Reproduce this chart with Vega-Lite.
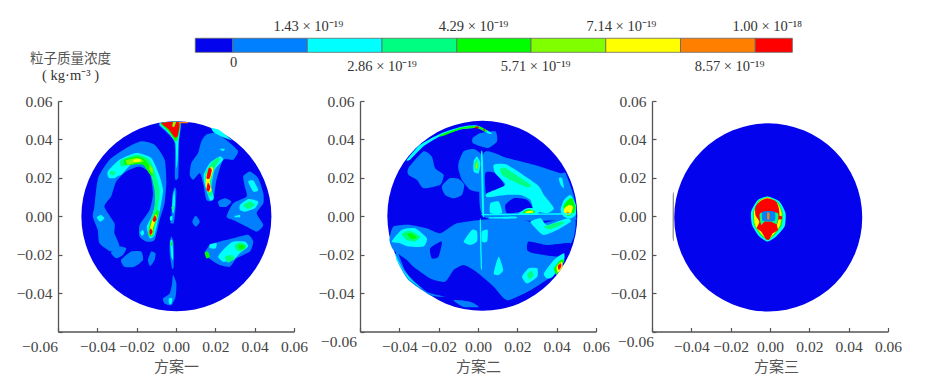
{"$schema":"https://vega.github.io/schema/vega-lite/v6.json","background":"white","padding":{"left":16,"top":0,"right":0,"bottom":0},"spacing":0,"bounds":"flush","config":{"view":{"stroke":null},"axis":{"grid":false,"domainColor":"#555","domainWidth":1.3,"tickColor":"#555","tickWidth":1.2,"tickSize":-4,"labelFont":"Liberation Serif","labelFontSize":15.5,"labelColor":"#444","labelOverlap":false,"labelBound":false,"labelFlush":false,"titleFont":"Noto Sans CJK SC","titleFontSize":15,"titleFontWeight":"normal","titleColor":"#555"},"axisX":{"labelPadding":12,"titlePadding":4},"axisY":{"labelPadding":10,"title":null}},
"datasets":{
"A":[
{"i":"a1","v":1,"x":[-17.7,-10.9,-5.8,-4.9,-5.8,-8.3,-10.9,-15.1,-18.5,-18.5,-13.4,-11.7,-13.4,-18.5,-25.3,-30.4,-33,-36.4,-31.3,-31.3,-28.7,-33,-38.9,-39.8,-42.3,-41.5,-40.6,-39.3,-33.8,-25.3],"y":[39,37.2,29.4,18.1,6.8,-1.9,-12.4,-13.2,-10.6,-4.5,3.3,12,22.4,25.9,23.3,18.1,10.3,5,-3.7,-8.9,-15.8,-18.4,-14.1,-7.1,-0.2,5,13.7,20.7,29.4,35.5]},
{"i":"a2","v":2,"x":[-28.7,-20.2,-12.6,-8.3,-6.6,-7.5,-9.2,-10.9,-13.4,-14.8,-11.7,-10,-11.7,-16,-22.8,-27.9,-33.8,-34.7],"y":[29.4,32.9,30.3,20.7,13.7,6.8,-1.9,-9.7,-11.5,-5.4,1.6,10.3,20.7,26.8,26.8,21.6,19.8,23.3]},
{"i":"a3","v":3,"x":[-27.9,-19.4,-13.4,-10,-8.3,-9.2,-10.9,-12.1,-13.8,-13.4,-10.9,-10.9,-13.1,-16.8,-23.6,-27.9],"y":[29.4,32,29.4,20.7,12.9,5,-1.9,-9.7,-10.3,-3.7,5,13.7,22.4,27.7,26.8,25.9]},
{"i":"a4","v":4,"x":[-26.2,-19.4,-14.8,-11.7,-13.1,-16.8,-22.8,-25.8],"y":[29.4,31.1,28.5,21.6,21.6,26.8,26.8,26.8]},
{"i":"a5","v":5,"x":[-25.3,-19.4,-16.5,-21.1,-24.5],"y":[29.1,30.3,28.5,27.7,26.8]},
{"i":"a6","v":6,"x":[-21.6,-18.2,-18.2,-21.6],"y":[29.4,29.8,28.4,28.4]},
{"i":"a7","v":5,"x":[-13.4,-11.7,-12.1,-13.4],"y":[26.8,24.2,22.1,24.2]},
{"i":"s1","v":4,"x":[-9.5,-8.7,-10.9,-11.7,-13.8,-13.4],"y":[3.3,1.6,-5.4,-10.3,-9.7,-4.5]},
{"i":"s2","v":6,"x":[-10,-10,-11.7,-12.1,-13.4,-13.1,-11.7],"y":[1.2,-1,-6.3,-9.7,-9.4,-5.7,-1]},
{"i":"s3","v":8,"x":[-10.7,-9.9,-11,-11.9],"y":[0.5,-1.6,-3.1,-1.9]},
{"i":"s4","v":8,"x":[-12.8,-11.9,-12.8,-13.6],"y":[-6.3,-8,-9.9,-8.2]},
{"i":"b1","v":2,"x":[-34.2,-31.3,-28.7,-31.3,-33.8],"y":[23.3,24.5,22.4,19.8,20.2]},
{"i":"b1b","v":3,"x":[-33,-30.8,-31.8,-33.8],"y":[23.7,23.1,21.4,22.1]},
{"i":"b2","v":2,"x":[-40.3,-38.1,-36.4,-38.6],"y":[-0.5,0.7,-1,-2.8]},
{"i":"c1","v":1,"x":[-33,-28.7,-25.3,-27,-30.4],"y":[-19,-15.8,-16.7,-20.2,-21.9]},
{"i":"c2","v":1,"x":[-27.9,-22.8,-17.7,-16.8,-21.1,-26.2],"y":[-22.8,-18.4,-18.4,-22.8,-26.3,-26.3]},
{"i":"c3","v":1,"x":[-14.3,-12.6,-10.4,-10.9,-13.1],"y":[-22.8,-18.4,-19.3,-22.8,-25.9]},
{"i":"c4","v":2,"x":[-18.2,-16.8,-16.2,-17.2],"y":[-8.5,-7.1,-8.9,-10.3]},
{"i":"t1","v":1,"x":[-8.8,2.2,1.5,1.2,-0.5,-0.7,-4.9],"y":[48.2,48.9,38.1,20.7,19.8,38.1,43.7]},
{"i":"t2","v":2,"x":[-8.3,1.9,1.2,0.9,0.2,-0.3,-4.6],"y":[48.2,48.9,38.1,29.4,25.1,38.1,44.2]},
{"i":"t3","v":4,"x":[-7.8,1.9,1,-0.2,-4.1],"y":[48.4,48.9,40.7,39,44.5]},
{"i":"t4","v":8,"x":[-7.3,1.5,0.9,-0.7,-3.6],"y":[48.5,48.9,41.9,41.1,45.1]},
{"i":"t5","v":5,"x":[-1.5,0,-0.9,-1.9],"y":[48.9,48.9,46.5,46.8]},
{"i":"t6","v":7,"x":[1.5,6,6,1.5],"y":[49,49,48.4,48.4]},
{"i":"u1","v":1,"x":[15.5,20.6,27.4,31.6,29.1,24,20.6,18.9,15.5,13.8,12.1,8.7,7,7.8,11.2,12.9],"y":[42.5,43.3,38.1,33.8,29.4,29.4,19,8.5,8.5,17.2,22.4,19,21.6,27.7,32.9,39]},
{"i":"u2","v":2,"x":[18,22.3,28.2,27.4,22.3,19.2],"y":[45.9,44.7,39.8,39.8,41.9,43.7]},
{"i":"u2b","v":4,"x":[24,28.2,26.5],"y":[43.2,39.9,41.2]},
{"i":"u3","v":2,"x":[22.3,24,19.7,18,19.2,17.2,14.6,14.1,17.2],"y":[31.1,29.4,24.2,15.5,9.4,8.5,16.4,21.6,27.7]},
{"i":"u4","v":3,"x":[20.9,22.3,18.9,17.7,18.5,16.8,15.1,15,18],"y":[30.3,29.8,23.3,15.5,11.1,10.6,17.2,22.4,27.7]},
{"i":"u5","v":6,"x":[18,18.9,17.2,18,16.7,15.1,15.5],"y":[25.9,24.2,18.1,13.7,12.4,15.8,21.6]},
{"i":"u6","v":8,"x":[16.7,18.2,17.2,15.5],"y":[25.1,24.2,19.8,19.8]},
{"i":"u7","v":8,"x":[16.2,17.5,16.8,15.5],"y":[17.6,15.5,12.9,13.7]},
{"i":"u8","v":2,"x":[22.3,24.8,24],"y":[35,35,33.9]},
{"i":"r1","v":1,"x":[34.2,37.6,41.8,44.4,44.4,41,44.4,41,35.9,29.1,25.7,29.1,35.9,35],"y":[20.7,23.3,19.8,12,6.8,1.6,-4.5,-8,-5.4,-1.9,-0.2,6.8,10.3,15.5]},
{"i":"r2","v":2,"x":[36.7,39.3,41.8,39.3],"y":[18.1,18.6,13.7,12.9]},
{"i":"r3","v":2,"x":[32.5,36.7,41.8,40.1,35,32.5],"y":[5.9,8.9,7.7,4.2,2.4,3.3]},
{"i":"r4","v":3,"x":[34.2,37.6,40.1,36.7],"y":[5.9,7.7,5.9,3.8]},
{"i":"r5","v":2,"x":[29.9,32.5,32.5,29.9],"y":[0.2,0.7,-0.5,-0.5]},
{"i":"r6","v":1,"x":[21.4,24.8,28.2,25.7,22.3],"y":[7.7,9.4,7.7,5,5]},
{"i":"r7","v":1,"x":[8.3,10,12.1,10],"y":[-2.8,0.3,-2.8,-5.4]},
{"i":"d1","v":1,"x":[17.2,22.3,29.1,36.7,39.3,37.6,30.8,27.4,22.3,18,14.6],"y":[-15,-13.2,-11.5,-9.7,-13.2,-18.4,-21.9,-26.3,-25.4,-22.8,-19.3]},
{"i":"d2","v":2,"x":[17.2,20.6,20.2,17.2],"y":[-14.6,-14.1,-16.7,-16.7]},
{"i":"d3","v":2,"x":[29.1,35,36.7,32.5,29.1,24,21.4,24.8],"y":[-13.2,-13.2,-15.8,-19.3,-22.8,-23.7,-21.1,-16.7]},
{"i":"d4","v":3,"x":[29.9,33.3,35.9,33.3,30.8],"y":[-15,-13.7,-15.8,-18.4,-17.6]},
{"i":"d5","v":3,"x":[24.8,28.2,29.9,26.5],"y":[-21.1,-20.2,-21.9,-24.2]},
{"i":"d6","v":4,"x":[31.6,34.2,35,32.5],"y":[-15,-15,-16.4,-17.2]},
{"i":"d7","v":4,"x":[14.6,16.3,17.2,15.5],"y":[-19,-18.4,-21.1,-21.9]},
{"i":"m1","v":1,"x":[-2.4,-1.9,-0.7,0.2,-0.3,-1.2,-3.2],"y":[-1.9,10.3,15.1,12.9,3.3,-3.7,-3.3]},
{"i":"m2","v":2,"x":[-2,-1.5,-0.7,-0.5,-1.2],"y":[3.3,10.3,13.7,6.8,1.6]},
{"i":"m3","v":3,"x":[-2.4,-1.2,-1.4],"y":[4.5,5.4,2.4]},
{"i":"m4","v":2,"x":[-3.1,-1.9,-1.9,-2.9],"y":[-0.5,0.2,-1.9,-2.3]},
{"i":"l1","v":1,"x":[-3.2,-2.4,-1.2,-1.2,-2,-3.2],"y":[-14.1,-10.6,-14.1,-26.3,-27.1,-19.3]},
{"i":"l2","v":2,"x":[-2.9,-2,-1.5,-1.5,-2.4],"y":[-13.2,-12.4,-17.6,-22.8,-21.1]},
{"i":"l3","v":4,"x":[-2.9,-1.9,-1.9],"y":[-14.1,-13.2,-15.8]},
{"i":"e1","v":1,"x":[-1.5,0.2,-0.2,-2.4,-5.8,-6.6,-3.2,-2],"y":[-30.6,-35,-41.9,-46.3,-45.4,-42.8,-40.2,-35]},
{"i":"e2","v":2,"x":[-3.6,-1.9,-2.4,-3.6],"y":[-42.8,-42.8,-45.8,-45.1]}
],
"B":[
{"i":"a","v":1,"x":[-35.4,-27.7,-23.5,-21.8,-17.5,-19.2,-27.7,-31.1,-35.4],"y":[25,33.8,31.1,25,21.6,16.4,14.6,19,21.6]},
{"i":"b","v":1,"x":[-18.4,-14.5,-9.9,-7,-8.2,-12.4,-16.7],"y":[15.5,19.8,19.5,16.4,11.1,9.4,11.1]},
{"i":"c","v":1,"x":[-9.9,-7.3,-2.2,2,2,-3.9,-8.2,-9.9],"y":[27.7,33.8,35,31.1,13.7,13.7,19,24.2]},
{"i":"d","v":1,"x":[-2.7,1.2,8.8,9.7,5.4,1.2,-2.7],"y":[40.7,43.3,44.2,39,35.5,36.4,38.1]},
{"i":"e","v":1,"x":[2.9,14.8,28.4,42,44.5,48.8,49.8,47.1,2.9],"y":[32.9,30.3,26.8,22.4,22.4,10.3,-0.2,-1.9,-0.2]},
{"i":"f","v":1,"x":[-43,-34.5,-26,-19.2,-10.7,1.2,18.2,31.8,48.8,48.8,43.7,36.9,26.7,14.8,8,1.2,-2.2,-7.3,-12.4,-16.7,-24.3,-32.8,-36.2,-43,-45],"y":[-5.4,-4.5,-6.3,-8.9,-3.7,-1.9,-1,-3.7,-0.2,-10.6,-21.1,-31.5,-38.5,-43.7,-36.7,-30.6,-28,-25.4,-28,-34.1,-32.4,-26.3,-22.8,-17.6,-12.4]},
{"i":"g","v":0,"x":[-24.3,-18.4,-20.1,-23.5],"y":[-16.7,-13.2,-21.1,-21.9]},
{"i":"h","v":0,"x":[25.8,35.2,47.1,43.7,28.4,25],"y":[-13.2,-15,-14.1,-21.1,-19.3,-17.6]},
{"i":"i","v":0,"x":[3.7,8.8,13.4,4.6],"y":[22.4,22.4,15.5,9.9]},
{"i":"j","v":0,"x":[13.9,18.2,25,28.4,21.6,14.8],"y":[5.9,9.4,8.5,3.3,2.4,1.6]},
{"i":"k","v":1,"x":[-41.3,-36.2,-26,-16.7,-24.3,-35.4,-41.3],"y":[-17.6,-29.8,-39.3,-41.9,-41.1,-33.2,-22.8]},
{"i":"l","v":1,"x":[-12.4,-3.9,0.3,-7.3],"y":[-43.7,-44.5,-47.2,-47.2]},
{"i":"m","v":2,"x":[8,14.8,30.1,33.5,38.6,35.2,28.4,26.7,21.6,13.9,4.6,4.6,13.9,8.8],"y":[26.8,26.8,16.4,11.1,4.2,1.6,3.3,8.5,11.1,11.1,9.9,12,16.4,22.4]},
{"i":"n","v":2,"x":[6.3,10.5,12.2,6.3],"y":[6.8,7.7,1.6,1.6]},
{"i":"o","v":3,"x":[11.4,14.8,26.7,25,18.2,12.2],"y":[25,24.5,16.4,15.1,18.1,21.6]},
{"i":"p","v":2,"x":[-2.2,-0.5,1.2,0.3,-2.2],"y":[28.5,31.1,27.7,22.4,23.3]},
{"i":"q","v":3,"x":[-1.7,-0.5,0.3,-0.2,-1.5],"y":[27.7,29.8,26.8,23.7,24.5]},
{"i":"q2","v":5,"x":[-1.2,-0.3,-0.2,-1.2],"y":[26.8,28.5,25,25]},
{"i":"r","v":2,"x":[20.7,25,30.9,30.1,21.6],"y":[1.6,4.2,3.7,1.2,1]},
{"i":"r2","v":4,"x":[22.4,25.8,29.2,26.7],"y":[1.9,3.7,2.4,1.2]},
{"i":"r3","v":6,"x":[24.1,27.5,28.1,24.7],"y":[2.3,3,1.9,1.6]},
{"i":"s","v":2,"x":[42,43.7,47.1,49.8,49.6,47.1,43.7],"y":[3.3,8.5,11.1,5.9,0.7,-1,-0.2]},
{"i":"s2","v":4,"x":[43.4,45.4,47.9,49.6,48.8,45.4],"y":[5,8.2,9.4,5,1.6,0.2]},
{"i":"s3","v":6,"x":[44,46.2,48.3,47.1,45,43.7],"y":[4.2,5.9,5,1.2,0.7,2.4]},
{"i":"s4","v":7,"x":[45,46.4,45.7],"y":[2.3,1.9,0.5]},
{"i":"t","v":2,"x":[1.5,2.4,3.1,2.2],"y":[32,32,1.6,1.6]},
{"i":"u","v":2,"x":[4.6,47.1,47.1,4.6],"y":[1.2,1.6,0.9,0.5]},
{"i":"w","v":2,"x":[6.3,19,19,6.3],"y":[-0.5,-0.2,-1.2,-1.2]},
{"i":"x","v":2,"x":[0.9,1.5,2,1.4],"y":[-2.8,-2.8,-26.3,-26.3]},
{"i":"y","v":2,"x":[-36.2,-29.4,-19.2,-9,-0.5,7.1,5.4,-0.5,-9,-19.2,-27.7,-34.5],"y":[29.4,37.2,43,46.5,47.3,43.3,43,45.9,45.1,41.6,36.4,29.4]},
{"i":"y2","v":4,"x":[-19.2,-9,-0.5,4.6,3.7,-0.5,-9,-18.4],"y":[42.3,46.1,47,44.7,44,45.9,45.2,41.6]},
{"i":"y3","v":8,"x":[-1.4,0.3,0.3,-1.4],"y":[46.6,46.6,45.8,45.8]},
{"i":"y4","v":8,"x":[2.6,3.7,3.2],"y":[45.6,45.1,44.4]},
{"i":"z","v":2,"x":[-43.9,-38.8,-32,-26,-27.7,-35.4,-39.6],"y":[-13.2,-7.1,-6.3,-11.5,-15.8,-15.8,-14.1]},
{"i":"z2","v":3,"x":[-38.8,-34.5,-29.4,-32,-36.2],"y":[-9.2,-7.5,-10.6,-13.2,-12.4]},
{"i":"z3","v":4,"x":[-36.2,-33.7,-31.1,-33.7],"y":[-9.2,-8.9,-11,-12]},
{"i":"aa","v":2,"x":[-7.3,-3.1,-0.5,-0.5,-3.9],"y":[-13.2,-7.1,-8,-13.2,-15]},
{"i":"bb","v":2,"x":[2,4.9,4.6,2],"y":[-8,-7.1,-13.2,-13.2]},
{"i":"cc","v":2,"x":[8,10.5,12.8,10.5],"y":[-29.8,-21.1,-28,-30.6]},
{"i":"dd","v":2,"x":[22.4,25.8,30.1,30.1,25],"y":[-31.5,-27.1,-27.1,-31.5,-35]},
{"i":"dd2","v":3,"x":[25,27,28.4,26.4],"y":[-30.6,-28.4,-30.6,-32.9]},
{"i":"ee","v":2,"x":[33.5,38.6,43.7,43.5,38,35.2],"y":[-29.8,-22.8,-19.3,-24,-31.5,-32.4]},
{"i":"ee2","v":4,"x":[38.6,42,44,41.5,39.9],"y":[-27.1,-22.8,-22.8,-27.5,-30.6]},
{"i":"ee3","v":6,"x":[40,42.5,43,40.6],"y":[-26.3,-23.7,-26.3,-29.4]},
{"i":"ee4","v":8,"x":[40.6,42.2,42.3,41.1],"y":[-25.9,-24.5,-26.3,-28]},
{"i":"ff","v":2,"x":[26.7,31.8,35.2,45.4,47.1,40.3,33.5,30.1],"y":[-2.8,-1,-4.5,-1,-2.8,-7.1,-9.7,-7.1]},
{"i":"ff2","v":3,"x":[33.5,42,43.7,36.9],"y":[-5.4,-2.8,-3.7,-6.8]},
{"i":"gg","v":2,"x":[41.1,42.8,43.7,42],"y":[19.8,19.8,14.6,16.4]},
{"i":"hh","v":2,"x":[-43,-42.2,-37.9,-33.7,-28.6,-35.4,-41.3],"y":[-15.8,-19.3,-28,-33.2,-37.6,-32.4,-22.8]}
],
"C":[
{"i":"o","v":2,"x":[-1.1,4.8,7.9,7.4,3.1,-1.1,-5.4,-9.1,-9.6,-6.2],"y":[10.3,7.7,1.6,-5.4,-10.6,-13.2,-10.6,-4.5,2.4,8.5]},
{"i":"o2","v":4,"x":[-1.1,4.2,6.5,6,2.8,-1.1,-4.8,-8.1,-8.6,-5.7],"y":[9.9,7.1,1.6,-4.5,-9.2,-12.4,-9.7,-4.5,2.1,8.2]},
{"i":"o3","v":6,"x":[-1.1,3.8,5.9,5.2,2.3,-1.1,-4.5,-7.6,-8.1,-5.4],"y":[9.7,6.8,1.6,-4.5,-8.9,-12,-9.2,-4.5,2.1,7.8]},
{"i":"o4","v":8,"x":[-1.1,3.1,4.5,4.8,3.5,4,1.4,-0.3,-2,-4.5,-6.7,-5.4,-7.4,-7.4,-4.5],"y":[9.4,7.7,4.2,-0.2,-4.5,-7.1,-8.9,-12,-12,-8,-6.3,-2.8,0.7,5,8.2]},
{"i":"n1","v":3,"x":[-5,4,3.5,0.6,-2.8,-4.5],"y":[1.6,1.6,-4,-2.8,-2.8,-4.5]},
{"i":"n2","v":1,"x":[-3.7,2.3,2.3,-3.7],"y":[2.4,2.4,-2.3,-2.3]},
{"i":"n3","v":7,"x":[-1.4,-0.3,-0.3,-1.4],"y":[1.9,1.6,-1.6,-1.6]},
{"i":"n4","v":8,"x":[4.5,6.2,5.9,4.6],"y":[0.2,-0.2,-1.6,-1.6]},
{"i":"rim","v":9,"x":[-49.4,-49,-49,-49.4],"y":[11,11,-11.3,-11.3]}
],
"L":[{"a":-0.714,"b":0,"v":0},{"a":0,"b":1.43,"v":1},{"a":1.43,"b":2.86,"v":2},{"a":2.86,"b":4.29,"v":3},{"a":4.29,"b":5.71,"v":4},{"a":5.71,"b":7.14,"v":5},{"a":7.14,"b":8.57,"v":6},{"a":8.57,"b":10,"v":7},{"a":10,"b":10.71,"v":8}],
"T":[{"t":"0","p":0.02,"r":0.62},{"t":"1.43 × 10⁻¹⁹","p":1.45,"r":0.27},{"t":"2.86 × 10⁻¹⁹","p":2.86,"r":0.66},{"t":"4.29 × 10⁻¹⁹","p":4.61,"r":0.27},{"t":"5.71 × 10⁻¹⁹","p":5.8,"r":0.66},{"t":"7.14 × 10⁻¹⁹","p":7.44,"r":0.27},{"t":"8.57 × 10⁻¹⁹","p":9.51,"r":0.66},{"t":"1.00 × 10⁻¹⁸","p":10.23,"r":0.27},{"t":"( kg·m⁻³ )","p":-3.1,"r":0.755}]
},
"vconcat":[
{"width":830,"height":101,"layer":[
{"data":{"name":"L"},"mark":{"type":"rect","stroke":"#666","strokeWidth":0.8},"encoding":{"x":{"field":"a","type":"quantitative","axis":null,"scale":{"domain":[-3.34,12.54],"nice":false,"zero":false}},"x2":{"field":"b"},"y":{"datum":0.379,"type":"quantitative","axis":null,"scale":{"domain":[0,1],"reverse":true}},"y2":{"datum":0.518},"fill":{"field":"v","type":"ordinal","legend":null,"scale":{"domain":[0,1,2,3,4,5,6,7,8,9],"range":["#0303ee","#0080ff","#00ffff","#00ff80","#00ff00","#80ff00","#ffff00","#ff8000","#ff0000","#555555"]}}}},
{"data":{"name":"T"},"mark":{"type":"text","font":"Liberation Serif","fontSize":14.5,"color":"#333","align":"center","baseline":"middle"},"encoding":{"x":{"field":"p","type":"quantitative"},"y":{"field":"r","type":"quantitative"},"text":{"field":"t"}}},
{"data":{"values":[{"t":"粒子质量浓度","p":-3.1,"r":0.585}]},"mark":{"type":"text","font":"Noto Sans CJK SC","fontSize":13.5,"color":"#555","align":"center","baseline":"middle"},"encoding":{"x":{"field":"p","type":"quantitative"},"y":{"field":"r","type":"quantitative"},"text":{"field":"t"}}}
]},
{"hconcat":[{"hconcat":[
{"width":236,"height":230.5,"encoding":{"x":{"field":"px","type":"quantitative","title":"方案一","scale":{"domain":[-60,60],"nice":false,"zero":false},"axis":{"values":[-60,-40,-20,0,20,40,60],"labelExpr":"datum.value==-60?'':format(datum.value/1000,'.2f')"}},"y":{"field":"py","type":"quantitative","scale":{"domain":[-60,60],"nice":false,"zero":false},"axis":{"values":[-60,-40,-20,0,20,40,60],"labelExpr":"datum.value==-60?'':format(datum.value/1000,'.2f')"}}},"layer":[
{"data":{"values":[{"px":0.2,"py":0}]},"mark":{"type":"point","filled":true,"opacity":1,"size":36100,"color":"#0303ee","strokeWidth":0}},
{"data":{"name":"A"},"transform":[{"flatten":["x","y"],"as":["px","py"]},{"window":[{"op":"row_number","as":"o"}]}],"mark":{"type":"line","interpolate":"cardinal-closed","tension":0.4,"strokeWidth":0},"encoding":{"detail":{"field":"i"},"order":{"field":"o","type":"quantitative"},"fill":{"field":"v","type":"ordinal","legend":null}}},
{"data":{"values":[{"px":-60,"py":-60,"t":"−0.06"}]},"mark":{"type":"text","dx":-18,"dy":15.5,"font":"Liberation Serif","fontSize":15.5,"color":"#444"},"encoding":{"text":{"field":"t"}}}
]},
{"width":236,"height":230.5,"encoding":{"x":{"field":"px","type":"quantitative","title":"方案二","scale":{"domain":[-60,60],"nice":false,"zero":false},"axis":{"values":[-60,-40,-20,0,20,40,60],"labelExpr":"datum.value==-60?'':format(datum.value/1000,'.2f')"}},"y":{"field":"py","type":"quantitative","scale":{"domain":[-60,60],"nice":false,"zero":false},"axis":{"values":[-60,-40,-20,0,20,40,60],"labelExpr":"datum.value==-60?'':format(datum.value/1000,'.2f')"}}},"layer":[
{"data":{"values":[{"px":2.2,"py":0.2}]},"mark":{"type":"point","filled":true,"opacity":1,"size":36100,"color":"#0303ee","strokeWidth":0}},
{"data":{"name":"B"},"transform":[{"flatten":["x","y"],"as":["px","py"]},{"window":[{"op":"row_number","as":"o"}]}],"mark":{"type":"line","interpolate":"cardinal-closed","tension":0.4,"strokeWidth":0},"encoding":{"detail":{"field":"i"},"order":{"field":"o","type":"quantitative"},"fill":{"field":"v","type":"ordinal","legend":null}}},
{"data":{"values":[{"px":-60,"py":-60,"t":"−0.06"}]},"mark":{"type":"text","dx":-21,"dy":10,"font":"Liberation Serif","fontSize":15.5,"color":"#444"},"encoding":{"text":{"field":"t"}}}
]}
],"spacing":66,"bounds":"flush"},
{"width":236,"height":230.5,"encoding":{"x":{"field":"px","type":"quantitative","title":"方案三","scale":{"domain":[-60,60],"nice":false,"zero":false},"axis":{"values":[-60,-40,-20,0,20,40,60],"titleX":124,"labelExpr":"datum.value==-60?'':format(datum.value/1000,'.2f')"}},"y":{"field":"py","type":"quantitative","scale":{"domain":[-60,60],"nice":false,"zero":false},"axis":{"values":[-60,-40,-20,0,20,40,60],"labelExpr":"datum.value==-60?'':format(datum.value/1000,'.2f')"}}},"layer":[
{"data":{"values":[{"px":-0.9,"py":-0.6}]},"mark":{"type":"point","filled":true,"opacity":1,"size":35344,"color":"#0303ee","strokeWidth":0}},
{"data":{"name":"C"},"transform":[{"flatten":["x","y"],"as":["px","py"]},{"window":[{"op":"row_number","as":"o"}]}],"mark":{"type":"line","interpolate":"cardinal-closed","tension":0.4,"strokeWidth":0},"encoding":{"detail":{"field":"i"},"order":{"field":"o","type":"quantitative"},"fill":{"field":"v","type":"ordinal","legend":null}}},
{"data":{"values":[{"px":-60,"py":-60,"t":"−0.06"}]},"mark":{"type":"text","dx":-16,"dy":10,"font":"Liberation Serif","fontSize":15.5,"color":"#444"},"encoding":{"text":{"field":"t"}}}
]}
],"spacing":0,"bounds":"full"}
],"resolve":{"scale":{"fill":"shared"}}}
